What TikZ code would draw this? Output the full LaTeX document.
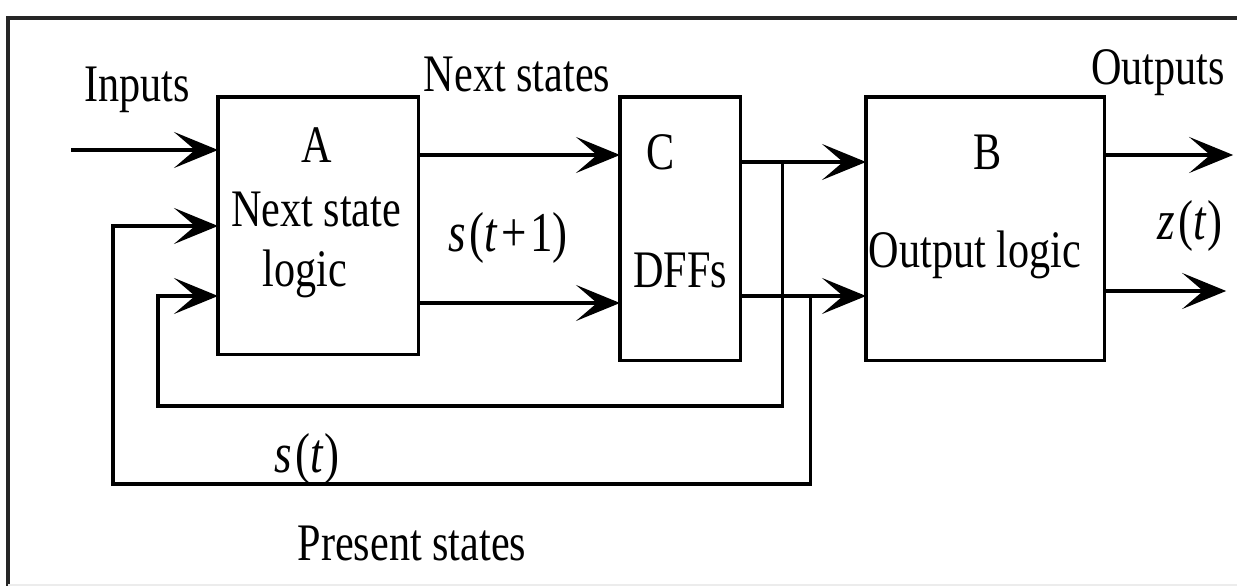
\documentclass[tikz,border=0pt]{standalone}
\usepackage{fontspec}
\setmainfont[FakeStretch=0.8]{Liberation Serif}
\usetikzlibrary{positioning, arrows.meta, calc}
\tikzset{
    blockstyle/.style={rectangle, draw=black, line width=0.9pt, inner sep=0pt, outer sep=0pt, anchor=north west},
    sigarr/.style={-{Stealth[length=0.44cm, width=0.36cm, inset=0.21cm]}, line width=0.9pt},
    framestyle/.style={line width=1.2pt, black!85},
    lbl/.style={font=\fontsize{15}{18}\selectfont, anchor=base, inner sep=0pt},
    mathlbl/.style={lbl, font=\fontsize{16}{19}\selectfont}
}
\begin{document}
\begin{tikzpicture}[x=0.01cm, y=-0.01cm]
        \useasboundingbox (0,0) rectangle (1237,586);

        % Frame
        \draw[framestyle] (1237,18) -- (8,18) -- (8,586);
        \draw[line width=0.8pt, gray!15] (8,585) -- (1237,585);

        % Blocks
        \node[blockstyle, minimum width=2cm, minimum height=2.57cm] (blkA) at (218,97) {};
        \node[blockstyle, minimum width=1.2cm, minimum height=2.63cm] (blkC) at (620,97) {};
        \node[blockstyle, minimum width=2.38cm, minimum height=2.63cm] (blkB) at (866,97) {};

        \node[lbl] (tA) at (317,163) {A};
        \node[lbl] (tA2) at (316,227) {Next state};
        \node[lbl] (tA3) at (305,287) {logic};
        \node[lbl] (tC) at (661,170) {C};
        \node[lbl] (tC2) at (680,288) {DFFs};
        \node[lbl] (tB) at (988,170) {B};
        \node[lbl] (tB2) at (975,268) {Output logic};

        % Signal labels
        \node[lbl] (inp) at (137,102) {Inputs};
        \node[lbl] (nxt) at (517,92) {Next states};
        \node[lbl] (outp) at (1158,85) {Outputs};
        \node[mathlbl] (snext) at (508,252) {\textit{s}\kern1pt(\textit{t}\kern1pt+\kern1pt1)};
        \node[mathlbl] (zt) at (1190,240) {\textit{z}\kern1pt(\textit{t})};
        \node[mathlbl] (st) at (307,473) {\textit{s}\kern1pt(\textit{t})};
        \node[lbl] (pres) at (412,561) {Present states};

        % Inputs
        \coordinate (inL) at (71,150);
        \draw[sigarr] (inL) -- (inL -| blkA.west);

        % A -> C -> B
        \draw[sigarr] ($(blkA.north east)+(0,58)$) -- ($(blkC.north west)+(0,58)$);
        \draw[sigarr] ($(blkA.north east)+(0,206)$) -- ($(blkC.north west)+(0,206)$);
        \draw[sigarr] ($(blkC.north east)+(0,65)$) -- ($(blkB.north west)+(0,65)$);
        \draw[sigarr] ($(blkC.north east)+(0,199)$) -- ($(blkB.north west)+(0,199)$);

        % Outputs
        \draw[sigarr] ($(blkB.north east)+(0,58)$) -- ++(129,0);
        \draw[sigarr] ($(blkB.north east)+(0,194)$) -- ++(122,0);

        % Feedback loops
        \coordinate (jnA) at ($(blkC.north east)+(42,65)$);
        \coordinate (jnB) at ($(blkC.north east)+(70,199)$);
        \coordinate (loopI) at (158,406);
        \coordinate (loopO) at (113,484);
        \draw[sigarr] (jnA) |- (loopI) |- ($(blkA.north west)+(0,199)$);
        \draw[sigarr] (jnB) |- (loopO) |- ($(blkA.north west)+(0,129)$);
    \end{tikzpicture}
\end{document}
